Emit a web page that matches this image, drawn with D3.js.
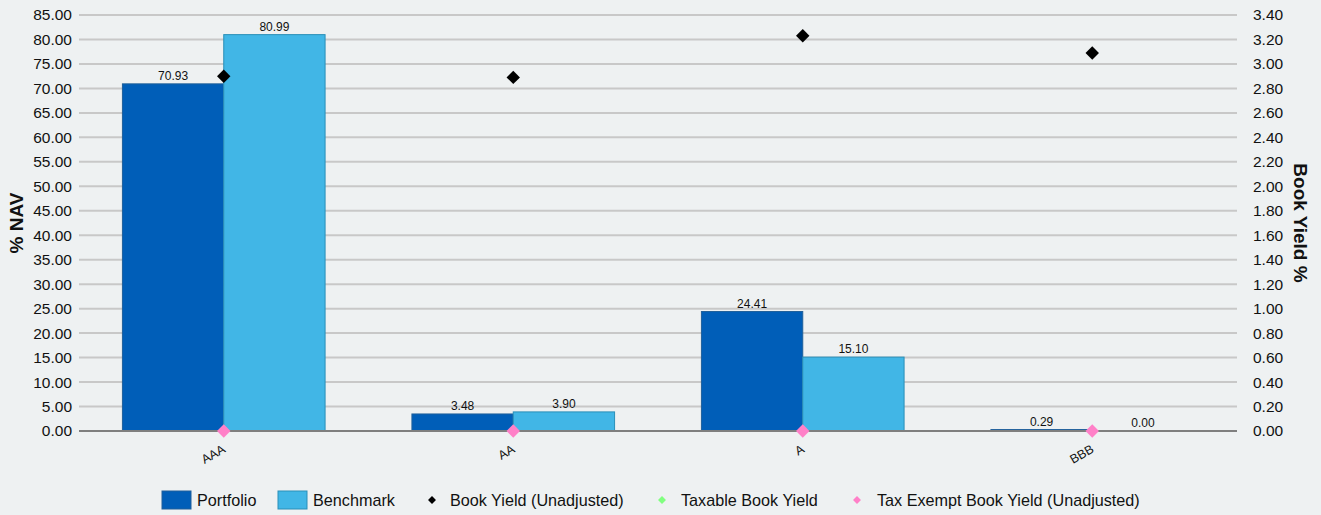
<!DOCTYPE html>
<html><head><meta charset="utf-8">
<script src="https://cdn.jsdelivr.net/npm/d3@7"></script>
<style>
body{margin:0;background:#eef1f2;}
svg{display:block;font-family:"Liberation Sans",Arial,sans-serif;}
</style></head><body>
<svg id="c" width="1321" height="515"></svg>
<script>
const categories = ["AAA","AA","A","BBB"];
const portfolio = [70.93, 3.48, 24.41, 0.29];
const benchmark = [80.99, 3.90, 15.10, 0.00];
const bookYield = [2.90, 2.89, 3.23, 3.09];
const taxExemptYield = [0, 0, 0, 0];
const leftTicks = d3.range(0, 85.01, 5);
const rightTicks = d3.range(0, 3.401, 0.2);
const seriesNames = ["Portfolio","Benchmark","Book Yield (Unadjusted)","Taxable Book Yield","Tax Exempt Book Yield (Unadjusted)"];

const svg = d3.select("#c");
const L = 79, R = 1237, T = 15, B = 431;
svg.append("rect").attr("width",1321).attr("height",515).attr("fill","#eef1f2");

const x = d3.scaleBand().domain(categories).range([L,R]).paddingInner(0.3).paddingOuter(0.15);
const xs = d3.scaleBand().domain(["p","b"]).range([0,x.bandwidth()]);
const y = d3.scaleLinear().domain([0,85]).range([B,T]);
const y2 = d3.scaleLinear().domain([0,3.4]).range([B,T]);

// grid
svg.append("g").selectAll("line").data(leftTicks.slice(1)).join("line")
  .attr("x1",L).attr("x2",R).attr("y1",d=>y(d)).attr("y2",d=>y(d))
  .attr("stroke","#c8c8c8").attr("stroke-width",2);

// left axis
const la = svg.append("g").attr("transform",`translate(${L},0)`)
  .call(d3.axisLeft(y).tickValues(leftTicks).tickFormat(d3.format(".2f")).tickSize(0).tickPadding(7));
la.select(".domain").remove();
la.selectAll("text").attr("font-size",15.5).attr("fill","#111").attr("font-family","Liberation Sans, Arial, sans-serif");

const ra = svg.append("g").attr("transform",`translate(${R},0)`)
  .call(d3.axisRight(y2).tickValues(rightTicks).tickFormat(d3.format(".2f")).tickSize(0).tickPadding(16));
ra.select(".domain").remove();
ra.selectAll("text").attr("font-size",15.5).attr("fill","#111").attr("font-family","Liberation Sans, Arial, sans-serif");

// bars
const g = svg.append("g");
categories.forEach((c,i)=>{
  [["p",portfolio[i],"#005eb8","#1f5f9a"],["b",benchmark[i],"#41b6e6","#2a8fb8"]].forEach(([k,v,f,s])=>{
    const bx = x(c)+xs(k);
    g.append("rect").attr("x",bx).attr("y",y(v)).attr("width",xs.bandwidth()).attr("height",Math.max(0,B-y(v)))
      .attr("fill",f).attr("stroke",s).attr("stroke-width",1);
    g.append("text").attr("x",bx+xs.bandwidth()/2).attr("y",y(v)-4).attr("text-anchor","middle")
      .attr("font-size",12).attr("fill","#111").text(v.toFixed(2));
  });
});

// baseline
svg.append("line").attr("x1",L).attr("x2",R).attr("y1",B).attr("y2",B).attr("stroke","#7f7f7f").attr("stroke-width",2);

// x labels
categories.forEach(c=>{
  const cx = x(c)+x.bandwidth()/2;
  svg.append("text").attr("transform",`translate(${cx-2},${444}) rotate(-30)`).attr("text-anchor","end")
    .attr("dy","0.7em").attr("font-size",12.5).attr("fill","#111").text(c);
});

// diamonds
const diamond = d3.symbol().type(d3.symbolDiamond2);
categories.forEach((c,i)=>{
  const cx = x(c)+x.bandwidth()/2;
  svg.append("path").attr("d",diamond.size(115)()).attr("transform",`translate(${cx},${y2(bookYield[i])})`).attr("fill","#000");
  svg.append("path").attr("d",diamond.size(115)()).attr("transform",`translate(${cx},${y2(taxExemptYield[i])})`).attr("fill","#ff80c8");
});

// axis titles
svg.append("text").attr("transform",`translate(23,${(T+B)/2}) rotate(-90)`).attr("text-anchor","middle")
  .attr("font-size",19).attr("font-weight","bold").attr("fill","#111").text("% NAV");
svg.append("text").attr("transform",`translate(1294,${(T+B)/2}) rotate(90)`).attr("text-anchor","middle")
  .attr("font-size",19).attr("font-weight","bold").attr("fill","#111").text("Book Yield %");

// legend
const lg = svg.append("g");
const ly = 500;
const fs = 16.2;
lg.append("rect").attr("x",162).attr("y",491).attr("width",29).attr("height",18).attr("fill","#005eb8").attr("stroke","#1f5f9a");
lg.append("text").attr("x",197).attr("y",ly+6).attr("font-size",fs).attr("fill","#111").text(seriesNames[0]);
lg.append("rect").attr("x",278).attr("y",491).attr("width",29).attr("height",18).attr("fill","#41b6e6").attr("stroke","#2a8fb8");
lg.append("text").attr("x",313).attr("y",ly+6).attr("font-size",fs).attr("fill","#111").text(seriesNames[1]);
const sd = d3.symbol().type(d3.symbolDiamond2).size(40);
lg.append("path").attr("d",sd()).attr("transform",`translate(432,${ly})`).attr("fill","#000");
lg.append("text").attr("x",450).attr("y",ly+6).attr("font-size",fs).attr("fill","#111").text(seriesNames[2]);
lg.append("path").attr("d",sd()).attr("transform",`translate(662,${ly})`).attr("fill","#80ff80");
lg.append("text").attr("x",681).attr("y",ly+6).attr("font-size",fs).attr("fill","#111").text(seriesNames[3]);
lg.append("path").attr("d",sd()).attr("transform",`translate(857,${ly})`).attr("fill","#ff80c8");
lg.append("text").attr("x",877).attr("y",ly+6).attr("font-size",fs).attr("fill","#111").text(seriesNames[4]);
</script></body></html>
